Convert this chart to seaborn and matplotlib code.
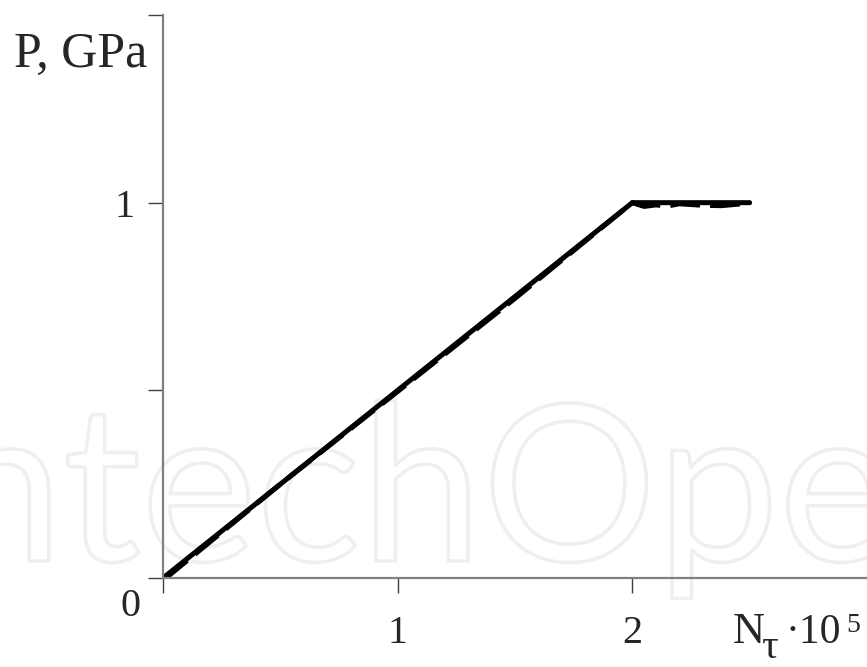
import matplotlib
matplotlib.use("Agg")
import matplotlib.pyplot as plt
import matplotlib.patheffects as pe
import seaborn as sns
import pandas as pd

# solid curve: linear loading then plateau
n_solid = [0.0, 2.0, 2.5]
p_solid = [0.0, 1.0, 1.0]

# dashed curve: follows the same path, slight wobble on the plateau
n_dash = [0.0, 0.02, 0.5, 1.0, 1.5, 1.98, 2.0, 2.05, 2.1, 2.15, 2.2, 2.3, 2.38, 2.45, 2.5]
p_dash = [0.0, 0.004, 0.25, 0.497, 0.745, 0.99, 1.0, 0.99, 0.994, 0.991, 0.997, 0.993, 0.992, 0.996, 1.0]

x_ticks = [0, 1, 2]
x_labels = ["", "1", "2"]
y_ticks = [0, 0.5, 1, 1.5]
y_labels = ["", "", "1", ""]

solid = pd.DataFrame({"N": n_solid, "P": p_solid})
dashed = pd.DataFrame({"N": n_dash, "P": p_dash})

sns.set_style("white")
plt.rcParams["font.family"] = ["Liberation Serif", "DejaVu Serif"]

fig = plt.figure(figsize=(8.67, 6.67), dpi=100)

# faint outlined watermark, behind everything
fig.text(-0.138, 0.159, "IntechOpen", fontsize=157, family="Lato", color="none",
         zorder=-5, ha="left", va="baseline",
         path_effects=[pe.withStroke(linewidth=2.5, foreground="#efefef")])

ax = fig.add_axes([163 / 867, 89 / 667, 704 / 867, 563 / 667])
ax.set_facecolor("none")

sns.lineplot(data=dashed, x="N", y="P", ax=ax, color="black", lw=3.6,
             linestyle=(0, (6, 2)), estimator=None, sort=False)
sns.lineplot(data=solid, x="N", y="P", ax=ax, color="black", lw=3.6,
             estimator=None, sort=False, solid_capstyle="round")

ax.set_xlim(0, 3)
ax.set_ylim(0, 1.5)
ax.set_xticks(x_ticks)
ax.set_xticklabels(x_labels)
ax.set_yticks(y_ticks)
ax.set_yticklabels(y_labels)
ax.set_xlabel("")
ax.set_ylabel("")
# hide the blank tick labels so they take no room
for lab in ax.get_xticklabels() + ax.get_yticklabels():
    if lab.get_text() == "":
        lab.set_visible(False)

for s in ["top", "right"]:
    ax.spines[s].set_visible(False)
for s in ["left", "bottom"]:
    ax.spines[s].set_color("#808080")
    ax.spines[s].set_linewidth(1.6)

ax.tick_params(axis="y", direction="out", length=10.5, width=1, color="#404040",
               labelsize=29, pad=10, left=True)
ax.tick_params(axis="x", direction="out", length=10.5, width=1, color="#404040",
               labelsize=29, pad=16, bottom=True)

fig.text(14 / 867, 1 - 55 / 667, "P, GPa", fontsize=36, ha="left", va="center")
fig.text(131 / 867, 1 - 607 / 667, "0", fontsize=29, ha="center", va="center")

# x axis label: N with subscript tau, times 10^5
fig.text(733 / 867, 1 - 643 / 667, "N", fontsize=32, ha="left", va="baseline")
fig.text(761 / 867, 1 - 658 / 667, "τ", fontsize=30, ha="left", va="baseline")
fig.text(785 / 867, 1 - 643 / 667, "·10", fontsize=30, ha="left", va="baseline")
fig.text(846 / 867, 1 - 632 / 667, "5", fontsize=20, ha="left", va="baseline")

fig.savefig("out.png", dpi=100)
